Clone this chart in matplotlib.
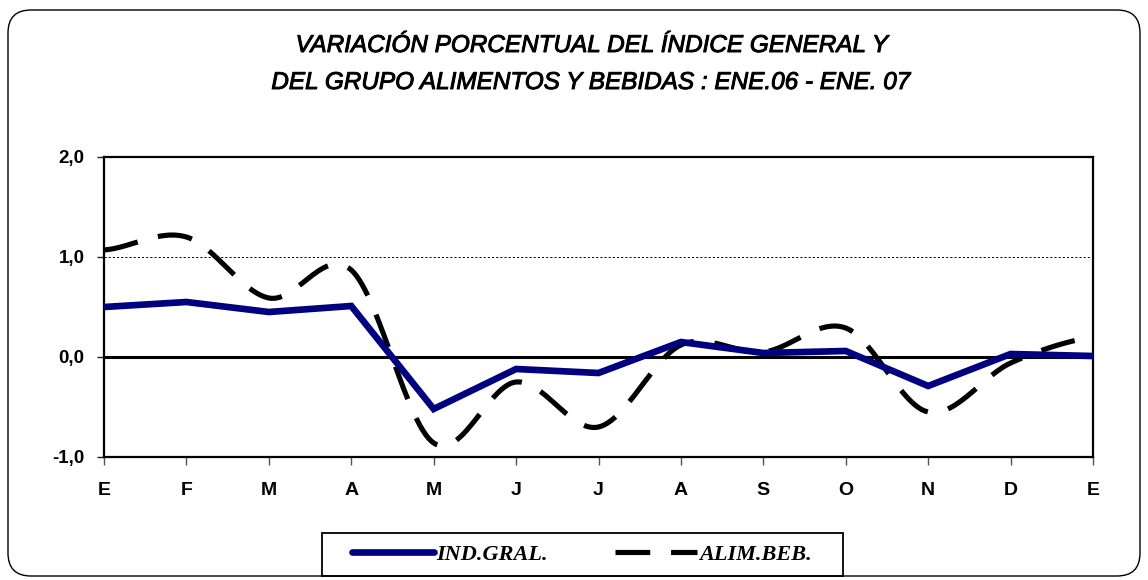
import numpy as np
import matplotlib
matplotlib.use("Agg")
import matplotlib.pyplot as plt
import matplotlib.patheffects as pe
from matplotlib.patches import FancyBboxPatch, Rectangle
from matplotlib.lines import Line2D

months = ["E", "F", "M", "A", "M", "J", "J", "A", "S", "O", "N", "D", "E"]
ind_gral = [0.50, 0.55, 0.45, 0.51, -0.52, -0.12, -0.16, 0.15, 0.04, 0.06, -0.29, 0.03, 0.01]
alim_beb = [1.07, 1.20, 0.59, 0.87, -0.86, -0.25, -0.70, 0.12, 0.05, 0.29, -0.55, -0.06, 0.20]
yticks = [-1.0, 0.0, 1.0, 2.0]
ytick_labels = ["-1,0", "0,0", "1,0", "2,0"]
title_lines = ["VARIACIÓN PORCENTUAL DEL ÍNDICE GENERAL Y",
               "DEL GRUPO ALIMENTOS Y BEBIDAS : ENE.06 - ENE. 07"]
series_names = ["IND.GRAL.", "ALIM.BEB."]

plt.rcParams['lines.scale_dashes'] = False
plt.rcParams['font.family'] = ['Liberation Sans', 'DejaVu Sans']

W, H = 1148, 580


def catmull_rom(y, n=30):
    y = np.asarray(y, float)
    x = np.arange(len(y), dtype=float)
    xs, ys = [], []
    for i in range(len(y) - 1):
        p0 = y[i - 1] if i > 0 else y[i]
        p1, p2 = y[i], y[i + 1]
        p3 = y[i + 2] if i + 2 < len(y) else y[i + 1]
        c1 = p1 + (p2 - p0) / 6.0
        c2 = p2 - (p3 - p1) / 6.0
        t = np.linspace(0, 1, n, endpoint=(i == len(y) - 2))
        b = (1 - t) ** 3 * p1 + 3 * (1 - t) ** 2 * t * c1 + 3 * (1 - t) * t ** 2 * c2 + t ** 3 * p2
        xs.append(x[i] + t)
        ys.append(b)
    return np.concatenate(xs), np.concatenate(ys)


fig = plt.figure(figsize=(W / 100, H / 100), dpi=100)
ax = fig.add_axes([104 / W, 1 - 457 / H, (1093 - 104) / W, 300 / H])

# outer rounded frame
frame = FancyBboxPatch((8 / W, 4 / H), 1132 / W, 566 / H,
                       boxstyle="round,pad=0,rounding_size=0.02",
                       transform=fig.transFigure, fill=False, ec="black", lw=1.0,
                       mutation_aspect=W / H)
fig.patches.append(frame)

x = np.arange(len(months))
ax.axhline(0, color="black", lw=2.2, zorder=1)
for yv in [1.0, 0.0]:
    ax.axhline(yv, color="black", lw=0.7, ls=(0, (1.5, 1.5)), zorder=1.5)

xs, ys = catmull_rom(alim_beb)
ax.plot(xs, ys, color="black", lw=3.7, dashes=(25, 15), zorder=2,
        solid_capstyle="butt", dash_capstyle="butt")
ax.plot(x, ind_gral, color="#000080", lw=4.8, zorder=3,
        solid_joinstyle="miter", solid_capstyle="round")

ax.set_xlim(0, len(months) - 1)
ax.set_ylim(-1.0, 2.0)
ax.set_yticks(yticks)
ax.set_yticklabels(ytick_labels, fontsize=13.5, fontweight="bold")
ax.set_xticks(x)
ax.set_xticklabels(months, fontsize=14, fontweight="bold")
ax.tick_params(axis="x", direction="out", length=6, width=1.0, color="#555555", pad=12)
ax.tick_params(axis="y", direction="out", length=5, width=1.0, color="#222222", pad=9)
for s in ax.spines.values():
    s.set_linewidth(1.6)
    s.set_color("black")

title_font = ['Liberation Sans Narrow', 'Liberation Sans', 'DejaVu Sans']
thick = [pe.withStroke(linewidth=0.7, foreground="black")]
fig.text(591 / W, 1 - 52 / H, title_lines[0], ha="center", va="baseline", fontsize=17.5,
         style="italic", family=title_font, path_effects=thick)
fig.text(590 / W, 1 - 89 / H, title_lines[1], ha="center", va="baseline", fontsize=17.5,
         style="italic", family=title_font, path_effects=thick)

# legend box
fig.patches.append(Rectangle((322 / W, 1 - 576 / H), (843 - 322) / W, 43 / H,
                             transform=fig.transFigure, fill=False, ec="black", lw=1.3))
handles = [Line2D([], [], color="#000080", lw=4.8, solid_capstyle="round"),
           Line2D([], [], color="black", lw=3.7, dashes=(25, 15))]
leg = fig.legend(handles, series_names, loc="center left",
                 bbox_to_anchor=(352 / W, 1 - 555 / H), ncol=2,
                 frameon=False, handlelength=3.7,
                 handletextpad=0.1, columnspacing=3.0, borderpad=0.0, borderaxespad=0.0,
                 prop={"family": ["Liberation Serif", "DejaVu Serif"], "style": "italic",
                       "weight": "bold", "size": 16})

fig.savefig("out.png", dpi=100)
